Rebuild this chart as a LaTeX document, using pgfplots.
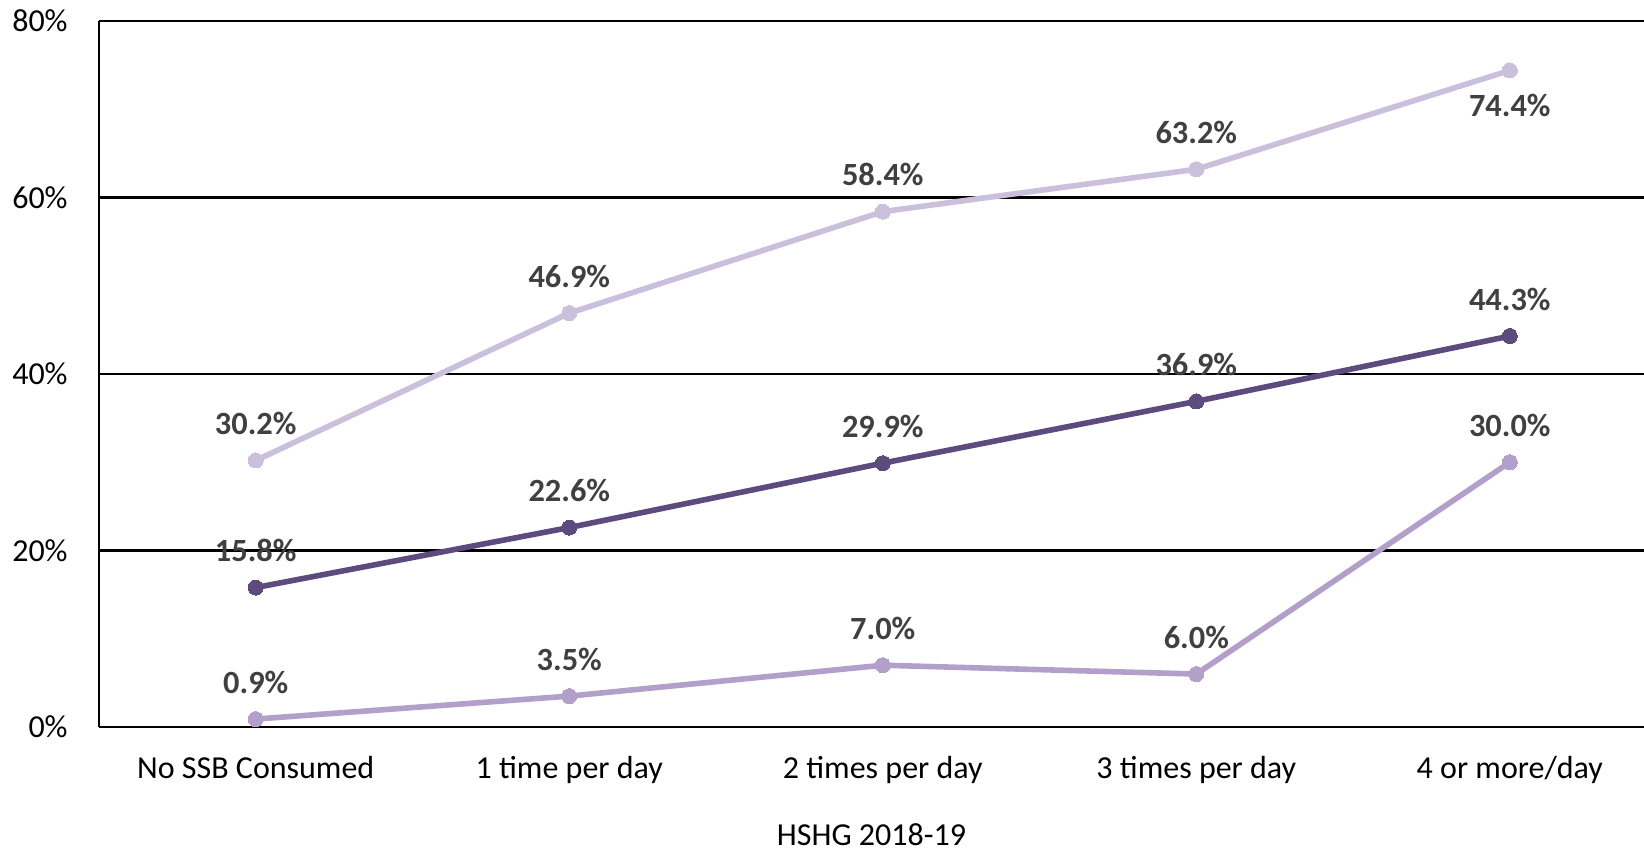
\documentclass[border=0pt]{standalone}
\usepackage{fontspec}
\setmainfont{Carlito}
\usepackage{pgfplots}
\usepackage{pgfplotstable}
\pgfplotsset{compat=1.18}
\definecolor{cLight}{RGB}{203,192,220}
\definecolor{cDark}{RGB}{94,75,126}
\definecolor{cMed}{RGB}{178,160,202}
\definecolor{lbl}{RGB}{64,64,64}

\pgfplotstableread{
x y dy
0 30.2 18.5
1 46.9 18.5
2 58.4 18.5
3 63.2 18.5
4 74.4 -17.5
}\tlight
\pgfplotstableread{
x y dy
0 15.8 18.5
1 22.6 18.5
2 29.9 18.5
3 36.9 18.5
4 44.3 18.5
}\tdark
\pgfplotstableread{
x y dy
0 0.9 18.5
1 3.5 18.5
2 7.0 18.5
3 6.0 18.5
4 30.0 18.5
}\tmed

\begin{document}
\begin{tikzpicture}
\useasboundingbox (-49.5pt,-62pt) rectangle (772.5pt,363.5pt);
\begin{axis}[
  at={(0,0)}, anchor=south west,
  scale only axis, width=772.5pt, height=353pt,
  xmin=-0.5, xmax=4.428, ymin=0, ymax=80,
  axis x line*=bottom, axis y line*=left,
  axis line style={black, line width=1.4pt},
  ymajorgrids, grid style={black, line width=1.4pt},
  major tick length=0pt,
  /pgf/number format/assume math mode=true,
  xtick={0,1,2,3,4},
  xticklabels={No SSB Consumed, 1 time per day, 2 times per day, 3 times per day, 4 or more/day},
  ytick={0,20,40,60,80},
  yticklabel={\pgfmathprintnumber{\tick}\%},
  tick label style={font=\fontsize{16}{19}\selectfont, inner sep=0pt, text=black},
  xticklabel style={anchor=base, yshift=-25.5pt},
  yticklabel style={anchor=east, xshift=-15.5pt},
  xlabel={HSHG 2018-19},
  xlabel style={at={(axis description cs:0.5,0)}, anchor=base, inner sep=0pt, yshift=-59pt, font=\fontsize{16}{19}\selectfont},
  clip=false,
  nodes near coords={\pgfmathprintnumber[fixed,fixed zerofill,precision=1]{\pgfplotspointmeta}\%},
  visualization depends on={\thisrow{dy} \as \dy},
  every node near coord/.append style={anchor=center, yshift=\dy pt, font=\fontsize{16.2}{19}\selectfont\bfseries, text=lbl, inner sep=0pt},
]
\addplot[cLight, line width=2.8pt, mark=*, mark size=3.75pt, mark options={fill=cLight, draw=cLight, line width=0pt}] table[x=x,y=y] {\tlight};
\addplot[cDark, line width=2.8pt, mark=*, mark size=3.75pt, mark options={fill=cDark, draw=cDark, line width=0pt}] table[x=x,y=y] {\tdark};
\addplot[cMed, line width=2.8pt, mark=*, mark size=3.75pt, mark options={fill=cMed, draw=cMed, line width=0pt}] table[x=x,y=y] {\tmed};
\end{axis}
\end{tikzpicture}
\end{document}
